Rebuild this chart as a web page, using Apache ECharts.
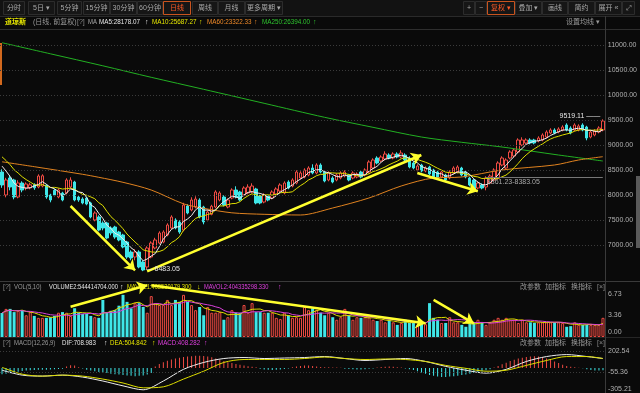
<!DOCTYPE html>
<html><head><meta charset="utf-8">
<script src="https://cdn.jsdelivr.net/npm/echarts/dist/echarts.min.js"></script>
<style>html,body{margin:0;padding:0;background:#0a0a0a;}#c{width:640px;height:393px;}</style>
</head><body><div id="c"></div>
<script>
// ---------- data ----------
const priorCloses = [9050, 9000, 8980, 8900, 8850, 8800, 8700, 8650, 8560];
const opens = [8466,8006,8346,8306,7966,8246,8146,8150,8210,8166,
8186,8200,8006,8100,7966,8046,8046,8166,8266,7966,
7926,7946,7846,7506,7566,7446,7446,7346,7366,7266,
7206,7066,6866,6766,6866,6666,6566,6766,6946,7046,
7066,7206,7346,7506,7466,7306,7786,7706,7766,7906,
7766,7506,7620,7766,7906,7966,7766,7946,8106,8066,
8006,8046,8066,8126,7986,7866,7986,7946,8026,8086,
8046,8266,8186,8246,8346,8366,8406,8546,8446,8606,
8466,8306,8346,8306,8346,8386,8406,8346,8366,8466,
8406,8466,8546,8746,8686,8726,8806,8746,8826,8766,
8806,8746,8646,8506,8606,8486,8566,8506,8466,8366,
8406,8346,8446,8466,8546,8466,8346,8306,8146,8206,
8166,8246,8306,8346,8606,8546,8746,8786,8866,9006,
9046,9106,9106,9086,9106,9166,9246,9306,9266,9306,
9406,9346,9306,9306,9406,9366,9166,9206,9266,9306];
const closes = [8206,8306,8166,7966,8246,8106,8226,8210,8150,8386,
8390,7966,7906,8006,8106,7906,8306,8306,7906,7906,
7846,7826,7566,7646,7306,7346,7146,7246,7166,7106,
6966,6766,6746,6866,6566,6506,6946,7046,7106,7246,
7266,7406,7566,7346,7266,7806,7646,7906,7926,7566,
7466,7666,7780,8066,8046,7806,7906,8106,7966,7906,
8146,8166,8186,7846,7846,8006,7906,8066,8126,8206,
8246,8146,8306,8466,8446,8506,8546,8446,8606,8466,
8286,8446,8266,8406,8446,8466,8306,8446,8426,8366,
8506,8666,8706,8646,8766,8826,8746,8826,8766,8846,
8706,8566,8546,8586,8486,8546,8426,8366,8346,8466,
8306,8466,8546,8566,8406,8366,8206,8106,8246,8146,
8346,8386,8506,8646,8746,8706,8866,8906,9106,9106,
9106,9046,9046,9146,9206,9266,9306,9246,9326,9366,
9306,9246,9406,9386,9306,9146,9266,9286,9346,9486];
const lows = [8150,7960,8100,7920,7940,8060,8100,8120,8110,8140,
8160,7930,7860,7980,7940,7880,8020,8140,7880,7870,
7820,7800,7540,7480,7280,7300,7120,7200,7130,7080,
6940,6730,6700,6700,6540,6483.05,6520,6740,6920,7020,
7040,7180,7320,7320,7230,7280,7620,7680,7740,7540,
7420,7480,7600,7740,7880,7780,7740,7920,7940,7880,
7980,8020,8040,7820,7820,7840,7880,7920,8000,8060,
8020,8120,8160,8220,8320,8340,8380,8420,8420,8440,
8260,8280,8240,8280,8320,8360,8280,8320,8340,8340,
8380,8440,8520,8620,8660,8700,8720,8720,8740,8740,
8680,8540,8520,8480,8460,8460,8400,8340,8320,8340,
8280,8320,8420,8440,8380,8340,8180,8080,8120,8120,
8100,8220,8280,8320,8580,8520,8720,8760,8840,8980,
9020,9020,9020,9060,9080,9140,9220,9220,9240,9280,
9280,9220,9280,9280,9280,9100,9140,9180,9240,9280];
const highs = [8520,8350,8400,8330,8300,8280,8260,8250,8240,8420,
8420,8220,8030,8130,8140,8070,8340,8360,8290,7990,
7960,7970,7870,7680,7600,7480,7470,7380,7390,7290,
7230,7090,6900,6920,6900,6700,6980,7080,7150,7280,
7300,7440,7600,7540,7500,7850,7820,7960,7980,7940,
7790,7700,7810,8100,8080,8000,7940,8140,8180,8090,
8180,8220,8240,8150,8010,8040,8010,8100,8160,8240,
8280,8300,8340,8500,8480,8540,8580,8620,8640,8640,
8490,8480,8380,8440,8480,8500,8430,8480,8460,8500,
8540,8700,8740,8780,8800,8880,8840,8860,8860,8900,
8840,8780,8680,8620,8630,8580,8590,8530,8490,8500,
8430,8500,8580,8600,8570,8490,8370,8330,8280,8240,
8380,8420,8540,8680,8780,8740,8900,8940,9140,9160,
9140,9140,9130,9180,9240,9300,9340,9340,9360,9400,
9440,9380,9440,9420,9440,9390,9300,9320,9380,9519.11];
const volumes = [3.76,4.4,4.4,3.9,4.1,4.2,3.4,3.9,3.3,3.0,
3.0,3.0,3.1,3.3,3.8,3.9,3.8,3.3,4.5,3.8,
3.6,3.6,3.3,3.1,3.0,5.8,3.9,4.1,4.2,4.9,
6.6,5.5,4.5,5.3,5.3,4.7,3.8,6.4,5.3,5.0,
5.0,5.8,5.0,5.8,5.5,6.6,5.5,5.0,4.2,4.7,
3.4,4.7,3.8,3.8,3.9,2.7,3.1,4.2,3.8,3.8,
5.0,3.8,5.3,3.9,3.9,3.8,3.8,3.8,3.0,2.8,
3.8,3.4,3.0,3.1,3.0,4.7,4.2,4.5,4.2,3.8,
3.4,3.8,3.1,2.7,3.1,4.4,3.4,2.7,3.1,3.0,
3.1,3.1,2.7,2.5,2.7,2.3,2.7,2.3,1.9,2.2,
2.7,2.2,2.2,1.9,2.2,2.0,5.3,3.0,2.7,2.2,
2.2,3.1,2.3,2.3,1.9,1.6,2.2,2.2,2.7,2.3,
1.9,2.3,2.7,3.0,2.7,3.0,2.7,2.7,2.2,2.7,
2.3,2.3,2.2,2.3,2.3,2.3,2.3,2.3,2.3,2.2,
1.6,1.7,2.3,1.9,1.9,1.9,1.9,1.9,1.9,3.0];
const macdHist = [-75,-70,-65,-55,-45,-35,-30,-28,-25,-22,-20,-20,-18,-15,-12,-8,
20,35,30,10,-5,
-20,-30,-40,-50,-55,-60,-70,-75,-80,-85,-90,-95,-100,-95,-90,-80,-60,
20,50,70,90,105,115,125,135,140,145,150,150,148,140,
130,115,100,85,70,60,50,40,30,22,15,8,
-10,-18,-22,-25,-22,-18,-12,-5,
10,18,25,30,30,25,20,12,10,8,6,5,3,
-8,-12,-15,-18,-18,-15,-10,-5,
5,12,15,18,15,10,5,
-5,-15,-25,-40,-55,-70,-85,-95,-105,-110,-110,-105,-100,-95,-85,-80,-70,-60,-50,-40,-28,-15,
5,25,45,65,85,100,115,125,135,140,143,140,130,115,100,80,60,40,25,
15,8,3,-2,-15,-25,-30,-30,-28];
// sampled line readings: [candle index, value]
const difPts = [[0,-27],[5,-87],[10,-99],[15,-87],[20,-111],[25,-159],[30,-218],[35,-266],[40,-159],[45,-16],[50,68],[55,116],[60,128],[65,116],[70,122],[75,128],[80,140],[85,116],[90,92],[95,104],[100,116],[105,80],[110,20],[115,-27],[120,-63],[125,-16],[130,80],[135,140],[140,164],[145,140],[149,116]];
const deaPts = [[0,8],[5,-75],[10,-99],[15,-87],[20,-99],[25,-135],[30,-183],[35,-242],[40,-230],[45,-135],[50,-39],[55,68],[60,104],[65,104],[70,104],[75,116],[80,134],[85,116],[90,104],[95,110],[100,104],[105,80],[110,32],[115,-4],[120,-39],[125,-27],[130,32],[135,92],[140,140],[145,140],[149,116]];
const ma60Pts = [[0,8670],[8,8572],[20,8420],[24,8360],[30,8260],[37,8106],[45,7830],[50,7740],[57,7650],[65,7620],[74,7606],[82,7746],[91,7946],[99,8186],[107,8346],[114,8366],[124,8506],[137,8606],[143,8706],[149,8772]];
const ma250Pts = [[0,11052],[12,10830],[25,10590],[37,10360],[50,10120],[65,9840],[80,9560],[92,9360],[104,9166],[114,9060],[124,8966],[138,8806],[149,8686]];
const priceTicks = [7000,7500,8000,8500,9000,9500,10000,10500,11000];
const volTicks = [0,3.36,6.73];
const macdTicks = [-305.21,-55.36,202.54];
const macdGrid = [-55.36,202.54];
const rangeLine = {from:120, to:149, value:8361.23, text:'8361.23-8383.05'};
const priceArrows = [[[17,7786],[33,6500]],[[36,6480],[104,8806]],[[103,8446],[118,8080]]];
const volArrows = [[[17,4.74],[36,8.1]],[[37,8.1],[105,2.14]],[[107,5.8],[117,2.14]]];
const toolbarLeft = [['分时',3,25],['5日 ▾',28,55],['5分钟',57,82],['15分钟',83,110],['30分钟',110,137],['60分钟',137,163],['日线',163,191,1],['周线',192,218],['月线',218,245],['更多周期 ▾',245,283]];
const toolbarRight = [['+',463,475],['−',475,487],['复权 ▾',487,515,1],['叠加 ▾',515,542],['画线',542,568],['简约',568,595],['展开 «',595,622],['⤢',622,635]];

// ---------- build ----------
const N = closes.length;
const cats = closes.map((_, i) => String(i));
const UP = '#ef4b43', DOWN = '#3fe6e8', BG = '#0a0a0a';
const candleData = closes.map((c, i) => [opens[i], c, lows[i], highs[i]]);
function priceMA(n) {
  const all = priorCloses.concat(closes), off = priorCloses.length;
  return closes.map((_, i) => { let s = 0; for (let k = i + off - n + 1; k <= i + off; k++) s += all[k]; return +(s / n).toFixed(2); });
}
function volMA(n) {
  return volumes.map((_, i) => { const a = Math.max(0, i - n + 1); let s = 0; for (let k = a; k <= i; k++) s += volumes[k]; return +(s / (i - a + 1)).toFixed(3); });
}
const volData = volumes.map((v, i) => ({value: v, itemStyle: closes[i] >= opens[i] ? {color: BG, borderColor: UP, borderWidth: 1} : {color: DOWN}}));
const histData = macdHist.map(v => ({value: v, itemStyle: {color: v >= 0 ? UP : DOWN}}));

const FONT = '"Liberation Sans","Noto Sans CJK SC",sans-serif';
function txt(x, y, text, fill, o) {
  o = o || {};
  const el = {type: 'text', x, y, silent: true, z: 1, style: {text, fill, fontSize: o.size || 7, fontFamily: FONT, fontWeight: o.bold ? 'bold' : 'normal', verticalAlign: 'middle', align: o.align || 'left'}};
  if (o.sx) el.scaleX = o.sx;
  return el;
}
function line(x1, y1, x2, y2, c) { return {type: 'line', silent: true, z: 1, shape: {x1, y1, x2, y2}, style: {stroke: c, lineWidth: 1}}; }
const g = [];
g.push({type: 'rect', silent: true, z: 0, shape: {x: 0, y: 0, width: 640, height: 16}, style: {fill: '#121212'}});
toolbarLeft.concat(toolbarRight).forEach(b => {
  g.push({type: 'rect', silent: true, z: 1, shape: {x: b[1] + 0.5, y: 1.5, width: b[2] - b[1] - 1, height: 13}, style: {fill: '#161616', stroke: b[3] ? '#c9541f' : '#2c2c2c', lineWidth: 1}});
  g.push(txt((b[1] + b[2]) / 2, 8.5, b[0], b[3] ? '#ff5a26' : '#a8a8a8', {align: 'center'}));
});
g.push(line(0, 16.5, 640, 16.5, '#2a2a2a'));
g.push(line(0, 29.5, 640, 29.5, '#2e2e2e'));
g.push(line(0, 281.5, 640, 281.5, '#3a3a3a'));
g.push(line(0, 337.5, 640, 337.5, '#262626'));
g.push(line(605.5, 16, 605.5, 393, '#3a3a3a'));
g.push({type: 'rect', silent: true, z: 1, shape: {x: 0, y: 43, width: 2, height: 42}, style: {fill: '#d2691e'}});
g.push({type: 'rect', silent: true, z: 1, shape: {x: 636, y: 176, width: 4, height: 72}, style: {fill: '#5a5a5a'}});
// header row of price panel
g.push(txt(5, 22.5, '道琼斯', '#e6e600', {bold: true}));
g.push(txt(33, 22.5, '(日线, 前复权)', '#9a9a9a'));
g.push(txt(77, 22.5, '[?]', '#8a8a8a'));
g.push(txt(88, 22.5, 'MA', '#a8a8a8', {sx: 0.85}));
g.push(txt(99, 22.5, 'MA5:28178.07', '#e8e8e8', {sx: 0.9}));
g.push(txt(145, 22.5, '↑', '#e8e8e8'));
g.push(txt(152, 22.5, 'MA10:25687.27', '#e6e600', {sx: 0.9}));
g.push(txt(199, 22.5, '↑', '#e6e600'));
g.push(txt(207, 22.5, 'MA60:23322.33', '#f08a28', {sx: 0.9}));
g.push(txt(254, 22.5, '↑', '#f08a28'));
g.push(txt(262, 22.5, 'MA250:26394.00', '#2ec42e', {sx: 0.9}));
g.push(txt(313, 22.5, '↑', '#2ec42e'));
g.push(txt(600, 22.5, '设置均线 ▾', '#9a9a9a', {align: 'right'}));
// volume header
g.push(txt(3, 287, '[?]', '#8a8a8a'));
g.push(txt(14, 287, 'VOL(5,10)', '#9a9a9a', {sx: 0.85}));
g.push(txt(49, 287, 'VOLUME2:544414704.000', '#e8e8e8', {sx: 0.82}));
g.push(txt(120, 287, '↑', '#e8e8e8'));
g.push(txt(127, 287, 'MAVOL1:403530179.300', '#e6e600', {sx: 0.82}));
g.push(txt(197, 287, '↓', '#e6e600'));
g.push(txt(204, 287, 'MAVOL2:404335298.330', '#e040e0', {sx: 0.82}));
g.push(txt(278, 287, '↑', '#e040e0'));
// macd header
g.push(txt(3, 343.5, '[?]', '#8a8a8a'));
g.push(txt(14, 343.5, 'MACD(12,26,9)', '#9a9a9a', {sx: 0.85}));
g.push(txt(62, 343.5, 'DIF:708.983', '#e8e8e8', {sx: 0.88}));
g.push(txt(104, 343.5, '↑', '#e8e8e8'));
g.push(txt(110, 343.5, 'DEA:504.842', '#e6e600', {sx: 0.88}));
g.push(txt(152, 343.5, '↑', '#e6e600'));
g.push(txt(158, 343.5, 'MACD:408.282', '#e040e0', {sx: 0.88}));
g.push(txt(204, 343.5, '↑', '#e040e0'));
[287, 343.5].forEach(y => {
  g.push(txt(520, y, '改参数', '#9a9a9a'));
  g.push(txt(545, y, '加指标', '#9a9a9a'));
  g.push(txt(571, y, '换指标', '#9a9a9a'));
  g.push(txt(597, y, '[×]', '#8a8a8a'));
});

const axLabel = {fontSize: 7, color: '#b0b0b0', fontFamily: FONT, margin: 3};
const xCommon = {type: 'category', data: cats, boundaryGap: true, axisLine: {show: false}, axisTick: {show: false}, axisLabel: {show: false}, splitLine: {show: false}};
const yCommon = {type: 'value', position: 'right', scale: true, axisLine: {show: false}, axisTick: {show: false}, splitLine: {show: false}};
const arrowLine = {color: '#ffff2e', width: 2.5, type: 'solid'};
const hidden = {type: 'line', showSymbol: false, symbol: 'none', lineStyle: {opacity: 0}, silent: true, z: 10};

const option = {
  backgroundColor: BG,
  animation: false,
  grid: [
    {left: 0, width: 605, top: 30, height: 251},
    {left: 0, width: 605, top: 282, height: 55},
    {left: 0, width: 605, top: 338, height: 56.3}
  ],
  xAxis: [Object.assign({gridIndex: 0}, xCommon), Object.assign({gridIndex: 1}, xCommon), Object.assign({gridIndex: 2}, xCommon)],
  yAxis: [
    Object.assign({gridIndex: 0, min: 6286, max: 11306, axisLabel: Object.assign({customValues: priceTicks, formatter: v => v.toFixed(2)}, axLabel)}, yCommon),
    Object.assign({gridIndex: 1, min: 0, max: 8.61, axisLabel: Object.assign({customValues: volTicks, formatter: v => v === 0 ? '{b|0.00}' : v.toFixed(2), rich: {b: {fontSize: 7, color: '#b0b0b0', padding: [0, 0, 10, 0]}}}, axLabel)}, yCommon),
    Object.assign({gridIndex: 2, min: -305.21, max: 366.6, axisLabel: Object.assign({customValues: macdTicks, formatter: v => v < -300 ? '{b|' + v.toFixed(2) + '}' : v.toFixed(2), rich: {b: {fontSize: 7, color: '#b0b0b0', padding: [0, 0, 8, 0]}}}, axLabel)}, yCommon)
  ],
  graphic: g,
  series: [
    {type: 'candlestick', xAxisIndex: 0, yAxisIndex: 0, data: candleData, barWidth: 3, z: 2,
      itemStyle: {color: BG, color0: DOWN, borderColor: UP, borderColor0: DOWN, borderWidth: 1},
      markPoint: {symbol: 'circle', symbolSize: 1, itemStyle: {color: 'rgba(0,0,0,0)'}, silent: true,
        data: [
          {type: 'max', valueDim: 'highest', label: {show: true, position: 'left', distance: 2, offset: [0, -3], color: '#e6e6e6', fontSize: 7, fontFamily: FONT, formatter: p => p.value.toFixed(2) + ' ——'}},
          {type: 'min', valueDim: 'lowest', label: {show: true, position: 'right', distance: 2, offset: [0, -2], color: '#e6e6e6', fontSize: 7, fontFamily: FONT, formatter: p => '— ' + p.value.toFixed(2)}}
        ]}
    },
    {name: 'MA250', type: 'line', xAxisIndex: 0, yAxisIndex: 0, data: ma250Pts, smooth: 0.3, showSymbol: false, symbol: 'none', z: 3, silent: true, lineStyle: {color: '#22b022', width: 1},
      markLine: {silent: true, symbol: 'none', label: {show: false}, lineStyle: {color: '#3b3b3b', type: [1, 2], width: 1}, data: priceTicks.map(v => ({yAxis: v}))}},
    {name: 'MA60', type: 'line', xAxisIndex: 0, yAxisIndex: 0, data: ma60Pts, smooth: 0.3, showSymbol: false, symbol: 'none', z: 3, silent: true, lineStyle: {color: '#e0821f', width: 1},
      markLine: {silent: true, symbol: 'none', lineStyle: {color: '#777', type: 'solid', width: 1},
        label: {show: true, position: 'insideStartBottom', formatter: rangeLine.text, color: '#aaa', fontSize: 7, fontFamily: FONT, distance: 1},
        data: [[{coord: [rangeLine.from, rangeLine.value]}, {coord: [rangeLine.to, rangeLine.value]}]]}},
    {name: 'MA10', type: 'line', xAxisIndex: 0, yAxisIndex: 0, data: priceMA(10), showSymbol: false, symbol: 'none', z: 3, silent: true, lineStyle: {color: '#dede00', width: 1}},
    {name: 'MA5', type: 'line', xAxisIndex: 0, yAxisIndex: 0, data: priceMA(5), showSymbol: false, symbol: 'none', z: 4, silent: true, lineStyle: {color: '#eeeeee', width: 1}},
    Object.assign({}, hidden, {xAxisIndex: 0, yAxisIndex: 0, data: closes,
      markLine: {silent: true, symbol: ['none', 'arrow'], symbolSize: 10, label: {show: false}, lineStyle: arrowLine, data: priceArrows.map(a => [{coord: a[0]}, {coord: a[1]}])}}),
    {type: 'bar', xAxisIndex: 1, yAxisIndex: 1, data: volData, barWidth: 3, z: 2, silent: true},
    {type: 'line', xAxisIndex: 1, yAxisIndex: 1, data: volMA(5), showSymbol: false, symbol: 'none', z: 3, silent: true, lineStyle: {color: '#dede00', width: 1}},
    {type: 'line', xAxisIndex: 1, yAxisIndex: 1, data: volMA(10), showSymbol: false, symbol: 'none', z: 3, silent: true, lineStyle: {color: '#d840d8', width: 1}},
    Object.assign({}, hidden, {xAxisIndex: 1, yAxisIndex: 1, data: volumes,
      markLine: {silent: true, symbol: ['none', 'arrow'], symbolSize: 10, label: {show: false}, lineStyle: arrowLine, data: volArrows.map(a => [{coord: a[0]}, {coord: a[1]}])}}),
    {type: 'bar', xAxisIndex: 2, yAxisIndex: 2, data: histData, barWidth: 1, z: 2, silent: true,
      markLine: {silent: true, symbol: 'none', label: {show: false}, lineStyle: {color: '#3b3b3b', type: [1, 2], width: 1}, data: macdGrid.map(v => ({yAxis: v}))}},
    {type: 'line', xAxisIndex: 2, yAxisIndex: 2, data: difPts, smooth: 0.3, showSymbol: false, symbol: 'none', z: 3, silent: true, lineStyle: {color: '#eeeeee', width: 1}},
    {type: 'line', xAxisIndex: 2, yAxisIndex: 2, data: deaPts, smooth: 0.3, showSymbol: false, symbol: 'none', z: 3, silent: true, lineStyle: {color: '#dede00', width: 1}}
  ]
};
const chart = echarts.init(document.getElementById('c'), null, {renderer: 'canvas'});
chart.setOption(option);
</script></body></html>
